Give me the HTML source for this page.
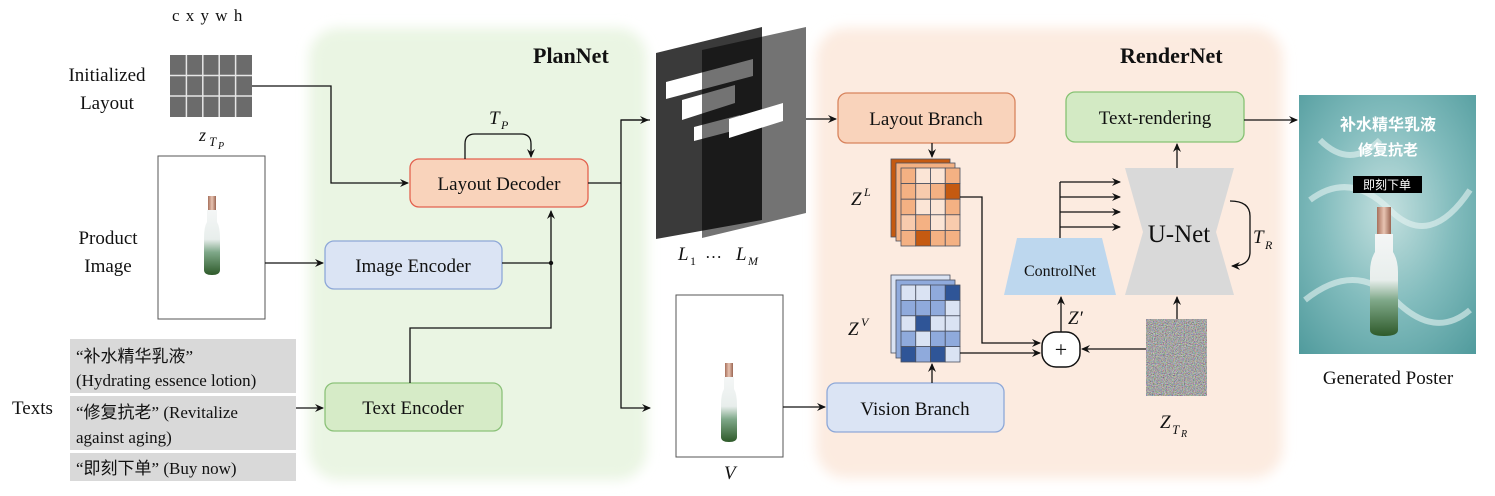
<!DOCTYPE html>
<html><head><meta charset="utf-8"><style>
html,body{margin:0;padding:0;background:#fff;}
svg{display:block;}
text{font-family:"Liberation Serif","Noto Serif CJK SC",serif;fill:#111;}
.cjk{font-family:"Liberation Serif","Noto Sans CJK SC",sans-serif;}
</style></head><body>
<svg width="1495" height="496" viewBox="0 0 1495 496" xmlns="http://www.w3.org/2000/svg">
<defs>
<marker id="ar" markerWidth="10" markerHeight="10" refX="8" refY="4" orient="auto" markerUnits="userSpaceOnUse">
<path d="M0,0 L9,4 L0,8 L3,4 Z" fill="#111"/></marker>
<filter id="blur" x="-10%" y="-10%" width="120%" height="120%"><feGaussianBlur stdDeviation="6"/></filter>
<linearGradient id="btl" x1="0" y1="0" x2="0" y2="1">
<stop offset="0" stop-color="#f4f6f6"/><stop offset="0.45" stop-color="#e8eeec"/><stop offset="0.65" stop-color="#7fa889"/><stop offset="1" stop-color="#2e5a2a"/></linearGradient>
<linearGradient id="cap" x1="0" y1="0" x2="1" y2="0">
<stop offset="0" stop-color="#a7705c"/><stop offset="0.5" stop-color="#e8c4b2"/><stop offset="1" stop-color="#9a6552"/></linearGradient>
<radialGradient id="pst" cx="0.5" cy="0.45" r="0.75">
<stop offset="0" stop-color="#c4e0df"/><stop offset="0.5" stop-color="#82bcbd"/><stop offset="1" stop-color="#4f9a9c"/></radialGradient>
<filter id="noise" x="0" y="0" width="1" height="1" filterUnits="objectBoundingBox"><feTurbulence type="fractalNoise" baseFrequency="0.9" numOctaves="2" seed="3"/><feColorMatrix type="matrix" values="0.9 0.1 0.1 0 -0.18  0.1 0.9 0.1 0 -0.18  0.1 0.1 0.9 0 -0.18  0 0 0 0 1"/></filter>
</defs>

<rect x="309" y="28" width="338" height="452" rx="30" fill="#eaf5e3" filter="url(#blur)"/>
<rect x="816" y="28" width="467" height="450" rx="30" fill="#fcebe0" filter="url(#blur)"/>
<text x="533" y="63" font-size="22" font-weight="bold">PlanNet</text>
<text x="1120" y="63" font-size="22" font-weight="bold">RenderNet</text>

<text x="172" y="21" font-size="17" letter-spacing="1">c x y w h</text>
<rect x="170" y="55" width="82" height="62" fill="#6b6b6b"/>
<g stroke="#e6e6e6" stroke-width="1.5">
<line x1="186.4" y1="55" x2="186.4" y2="117"/><line x1="202.8" y1="55" x2="202.8" y2="117"/>
<line x1="219.2" y1="55" x2="219.2" y2="117"/><line x1="235.6" y1="55" x2="235.6" y2="117"/>
<line x1="170" y1="75.5" x2="252" y2="75.5"/><line x1="170" y1="96" x2="252" y2="96"/></g>
<text x="107" y="81" font-size="19" text-anchor="middle">Initialized</text>
<text x="107" y="109" font-size="19" text-anchor="middle">Layout</text>
<text x="199" y="141" font-size="18" font-style="italic">z</text>
<text x="209" y="146" font-size="13" font-style="italic">T</text>
<text x="218" y="149" font-size="10" font-style="italic">P</text>

<rect x="158" y="156" width="107" height="163" fill="#fff" stroke="#555" stroke-width="1"/>
<g transform="translate(212,238)">
<rect x="-4" y="-42" width="8" height="14" fill="url(#cap)"/>
<path d="M-5,-28 h10 v12 q3,5 3,16 v32 q0,5 -8,5 q-8,0 -8,-5 v-32 q0,-11 3,-16 z" fill="url(#btl)"/>
</g>
<text x="108" y="244" font-size="19" text-anchor="middle">Product</text>
<text x="108" y="272" font-size="19" text-anchor="middle">Image</text>

<rect x="70" y="339" width="226" height="54" fill="#d9d9d9"/>
<rect x="70" y="396" width="226" height="54" fill="#d9d9d9"/>
<rect x="70" y="453" width="226" height="28" fill="#d9d9d9"/>
<text x="76" y="362" font-size="17" class="cjk">“补水精华乳液”</text>
<text x="76" y="386" font-size="17">(Hydrating essence lotion)</text>
<text x="76" y="418" font-size="17" class="cjk">“修复抗老” (Revitalize</text>
<text x="76" y="443" font-size="17">against aging)</text>
<text x="76" y="474" font-size="17" class="cjk">“即刻下单” (Buy now)</text>
<text x="12" y="414" font-size="19">Texts</text>

<rect x="410" y="159" width="178" height="48" rx="9" fill="#f9d3bb" stroke="#e3624f" stroke-width="1.3"/>
<text x="499" y="190" font-size="19" text-anchor="middle">Layout Decoder</text>
<rect x="325" y="241" width="177" height="48" rx="9" fill="#dbe4f4" stroke="#8ea8d8" stroke-width="1.3"/>
<text x="413" y="272" font-size="19" text-anchor="middle">Image Encoder</text>
<rect x="325" y="383" width="177" height="48" rx="9" fill="#d6ebc7" stroke="#8cc27a" stroke-width="1.3"/>
<text x="413" y="414" font-size="19" text-anchor="middle">Text Encoder</text>

<g fill="none" stroke="#111" stroke-width="1.3">
<polyline points="252,86 331,86 331,183 408,183" marker-end="url(#ar)"/>
<path d="M465,159 V144 q0,-10 10,-10 H521 q10,0 10,10 V157" marker-end="url(#ar)"/>
<line x1="265" y1="263" x2="323" y2="263" marker-end="url(#ar)"/>
<line x1="296" y1="408" x2="323" y2="408" marker-end="url(#ar)"/>
<line x1="502" y1="263" x2="551" y2="263"/>
<polyline points="410,383 410,328 551,328 551,211" marker-end="url(#ar)"/>
<line x1="588" y1="183" x2="621" y2="183"/>
<polyline points="650,120 621,120 621,408 650,408" marker-end="url(#ar)"/>
<line x1="621" y1="120" x2="648" y2="120" marker-end="url(#ar)"/>
</g>
<circle cx="551" cy="263" r="2.2" fill="#111"/>
<text x="489" y="124" font-size="19" font-style="italic">T</text>
<text x="501" y="129" font-size="12" font-style="italic">P</text>

<polygon points="656,53 762,27 762,220 656,239" fill="#3a3a3a"/>
<polygon points="666,82 753,59 753,76 666,99" fill="#fff"/>
<polygon points="682,100 735,85 735,103 682,120" fill="#fff"/>
<polygon points="694,127 740,115 740,129 694,141" fill="#fff"/>
<polygon points="702,50 806,27 806,213 702,238" fill="rgba(0,0,0,0.55)"/>
<polygon points="729,119 783,103 783,121 729,138" fill="#fff"/>
<text x="678" y="260" font-size="19" font-style="italic">L</text>
<text x="690" y="265" font-size="12">1</text>
<text x="705" y="258" font-size="17">…</text>
<text x="736" y="260" font-size="19" font-style="italic">L</text>
<text x="748" y="265" font-size="12" font-style="italic">M</text>

<rect x="676" y="295" width="107" height="162" fill="#fff" stroke="#555" stroke-width="1"/>
<g transform="translate(729,405)">
<rect x="-4" y="-42" width="8" height="14" fill="url(#cap)"/>
<path d="M-5,-28 h10 v12 q3,5 3,16 v32 q0,5 -8,5 q-8,0 -8,-5 v-32 q0,-11 3,-16 z" fill="url(#btl)"/>
</g>
<text x="724" y="479" font-size="19" font-style="italic">V</text>

<rect x="838" y="93" width="177" height="50" rx="9" fill="#f9d3bb" stroke="#d8845e" stroke-width="1.3"/>
<text x="926" y="125" font-size="19" text-anchor="middle">Layout Branch</text>
<rect x="827" y="383" width="177" height="49" rx="9" fill="#dbe4f4" stroke="#8ea8d8" stroke-width="1.3"/>
<text x="915" y="415" font-size="19" text-anchor="middle">Vision Branch</text>
<rect x="1066" y="92" width="178" height="50" rx="9" fill="#d3eac4" stroke="#86c273" stroke-width="1.3"/>
<text x="1155" y="124" font-size="19" text-anchor="middle">Text-rendering</text>

<g stroke="#4a5060" stroke-width="0.8">
<rect x="891" y="159" width="59" height="78" fill="#c55a11"/>
<rect x="896" y="163" width="59" height="78" fill="#f4b183"/>
<g transform="translate(901,168)">
<rect x="0" y="0" width="14.75" height="15.6" fill="#f4b183"/><rect x="14.75" y="0" width="14.75" height="15.6" fill="#fbe5d6"/><rect x="29.5" y="0" width="14.75" height="15.6" fill="#fbe5d6"/><rect x="44.25" y="0" width="14.75" height="15.6" fill="#f4b183"/>
<rect x="0" y="15.6" width="14.75" height="15.6" fill="#f4b183"/><rect x="14.75" y="15.6" width="14.75" height="15.6" fill="#f8cbad"/><rect x="29.5" y="15.6" width="14.75" height="15.6" fill="#f4b183"/><rect x="44.25" y="15.6" width="14.75" height="15.6" fill="#c55a11"/>
<rect x="0" y="31.2" width="14.75" height="15.6" fill="#f4b183"/><rect x="14.75" y="31.2" width="14.75" height="15.6" fill="#fbe5d6"/><rect x="29.5" y="31.2" width="14.75" height="15.6" fill="#fbe5d6"/><rect x="44.25" y="31.2" width="14.75" height="15.6" fill="#f4b183"/>
<rect x="0" y="46.8" width="14.75" height="15.6" fill="#f8cbad"/><rect x="14.75" y="46.8" width="14.75" height="15.6" fill="#f4b183"/><rect x="29.5" y="46.8" width="14.75" height="15.6" fill="#fbe5d6"/><rect x="44.25" y="46.8" width="14.75" height="15.6" fill="#f8cbad"/>
<rect x="0" y="62.4" width="14.75" height="15.6" fill="#f4b183"/><rect x="14.75" y="62.4" width="14.75" height="15.6" fill="#c55a11"/><rect x="29.5" y="62.4" width="14.75" height="15.6" fill="#f4b183"/><rect x="44.25" y="62.4" width="14.75" height="15.6" fill="#f4b183"/>
</g>
<rect x="891" y="275" width="59" height="78" fill="#dae3f3"/>
<rect x="896" y="280" width="59" height="78" fill="#8faadc"/>
<g transform="translate(901,285)">
<rect x="0" y="0" width="14.75" height="15.4" fill="#dae3f3"/><rect x="14.75" y="0" width="14.75" height="15.4" fill="#dae3f3"/><rect x="29.5" y="0" width="14.75" height="15.4" fill="#8faadc"/><rect x="44.25" y="0" width="14.75" height="15.4" fill="#2f5597"/>
<rect x="0" y="15.4" width="14.75" height="15.4" fill="#8faadc"/><rect x="14.75" y="15.4" width="14.75" height="15.4" fill="#8faadc"/><rect x="29.5" y="15.4" width="14.75" height="15.4" fill="#8faadc"/><rect x="44.25" y="15.4" width="14.75" height="15.4" fill="#dae3f3"/>
<rect x="0" y="30.8" width="14.75" height="15.4" fill="#dae3f3"/><rect x="14.75" y="30.8" width="14.75" height="15.4" fill="#2f5597"/><rect x="29.5" y="30.8" width="14.75" height="15.4" fill="#dae3f3"/><rect x="44.25" y="30.8" width="14.75" height="15.4" fill="#dae3f3"/>
<rect x="0" y="46.2" width="14.75" height="15.4" fill="#8faadc"/><rect x="14.75" y="46.2" width="14.75" height="15.4" fill="#dae3f3"/><rect x="29.5" y="46.2" width="14.75" height="15.4" fill="#8faadc"/><rect x="44.25" y="46.2" width="14.75" height="15.4" fill="#8faadc"/>
<rect x="0" y="61.6" width="14.75" height="15.4" fill="#2f5597"/><rect x="14.75" y="61.6" width="14.75" height="15.4" fill="#8faadc"/><rect x="29.5" y="61.6" width="14.75" height="15.4" fill="#2f5597"/><rect x="44.25" y="61.6" width="14.75" height="15.4" fill="#dae3f3"/>
</g>
</g>
<text x="851" y="205" font-size="19" font-style="italic">Z</text>
<text x="864" y="196" font-size="12" font-style="italic">L</text>
<text x="848" y="335" font-size="19" font-style="italic">Z</text>
<text x="861" y="326" font-size="12" font-style="italic">V</text>

<polygon points="1125,168 1234,168 1216,232 1234,295 1125,295 1143,232" fill="#d9d9d9"/>
<text x="1179" y="242" font-size="25" text-anchor="middle">U-Net</text>
<polygon points="1017,238 1102,238 1116,295 1004,295" fill="#bdd7ee"/>
<text x="1060" y="276" font-size="16" text-anchor="middle">ControlNet</text>

<rect x="1146" y="319" width="61" height="77" fill="#777" filter="url(#noise)"/>
<text x="1160" y="428" font-size="19" font-style="italic">Z</text>
<text x="1172" y="434" font-size="13" font-style="italic">T</text>
<text x="1181" y="437" font-size="10" font-style="italic">R</text>

<rect x="1042" y="332" width="38" height="35" rx="14" fill="#fff" stroke="#111" stroke-width="1.5"/>
<text x="1061" y="357" font-size="22" text-anchor="middle">+</text>
<text x="1068" y="324" font-size="19" font-style="italic">Z′</text>

<g fill="none" stroke="#111" stroke-width="1.3">
<line x1="806" y1="119" x2="836" y2="119" marker-end="url(#ar)"/>
<line x1="932" y1="143" x2="932" y2="157" marker-end="url(#ar)"/>
<line x1="932" y1="383" x2="932" y2="364" marker-end="url(#ar)"/>
<line x1="783" y1="407" x2="825" y2="407" marker-end="url(#ar)"/>
<polyline points="960,197 982,197 982,343 1040,343" marker-end="url(#ar)"/>
<line x1="960" y1="353" x2="1040" y2="353" marker-end="url(#ar)"/>
<line x1="1146" y1="349" x2="1082" y2="349" marker-end="url(#ar)"/>
<line x1="1061" y1="332" x2="1061" y2="297" marker-end="url(#ar)"/>
<line x1="1177" y1="319" x2="1177" y2="297" marker-end="url(#ar)"/>
<line x1="1177" y1="168" x2="1177" y2="144" marker-end="url(#ar)"/>
<line x1="1060" y1="238" x2="1060" y2="182"/>
<line x1="1060" y1="182" x2="1120" y2="182" marker-end="url(#ar)"/>
<line x1="1060" y1="197" x2="1120" y2="197" marker-end="url(#ar)"/>
<line x1="1060" y1="212" x2="1120" y2="212" marker-end="url(#ar)"/>
<line x1="1060" y1="227" x2="1120" y2="227" marker-end="url(#ar)"/>
<path d="M1230,201 q20,0 20,15 v36 q0,14 -18,14" marker-end="url(#ar)"/>
<line x1="1244" y1="120" x2="1297" y2="120" marker-end="url(#ar)"/>
</g>
<text x="1253" y="243" font-size="19" font-style="italic">T</text>
<text x="1265" y="249" font-size="12" font-style="italic">R</text>

<rect x="1299" y="95" width="177" height="259" fill="url(#pst)"/>
<path d="M1310,200 q40,-30 80,10 t80,-20 M1305,300 q50,-40 90,0 t75,10 M1320,140 q30,30 60,0" stroke="#e6f3f2" stroke-width="6" fill="none" opacity="0.6"/>
<text x="1388" y="130" font-size="16" font-weight="bold" text-anchor="middle" class="cjk" style="fill:#fff">补水精华乳液</text>
<text x="1388" y="155" font-size="15" font-weight="bold" text-anchor="middle" class="cjk" style="fill:#fff">修复抗老</text>
<rect x="1353" y="176" width="69" height="17" fill="#000"/>
<text x="1387" y="189" font-size="12" text-anchor="middle" class="cjk" style="fill:#fff">即刻下单</text>
<g transform="translate(1384,280)">
<rect x="-7" y="-73" width="14" height="27" fill="url(#cap)"/>
<path d="M-9,-46 h18 v18 q5,8 5,20 v58 q0,6 -14,6 q-14,0 -14,-6 v-58 q0,-12 5,-20 z" fill="url(#btl)"/>
</g>
<text x="1388" y="384" font-size="19" text-anchor="middle">Generated Poster</text>
</svg>
</body></html>
